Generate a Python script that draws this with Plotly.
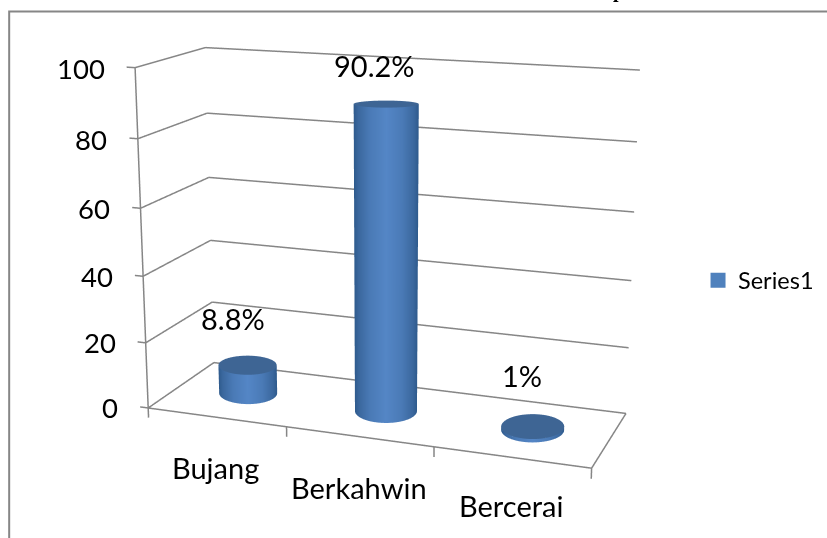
import numpy as np
import plotly.graph_objects as go

categories = ["Bujang", "Berkahwin", "Bercerai"]
values = [8.8, 90.2, 1.0]
value_labels = ["8.8%", "90.2%", "1%"]
z_ticks = [0, 20, 40, 60, 80, 100]
x_bounds = [0, 1, 2, 3]
series_name = "Series1"

W, H = 827, 538
XR = (-0.1, 3.03)
YR = (-0.03, 1.03)
ZR = (-4.0, 104.0)

# Camera of the scene. The reference has a long lens, far narrower than the
# 45-degree view plotly uses, so the figure is larger than the window and is
# shifted so that the view centre lands where the reference has it.
ASPECT = (1.2756, 0.4296, 1.0)
EYE = (1.4233, -3.8683, 1.0750)
UP = (0.0003, 0.0029, 1.0)
FOCAL = 1622.4
PPX, PPY = 380.9, 244.5
BH = 2 * FOCAL * np.tan(np.pi / 8)
BW = 2 * max(PPX, W - PPX) + 4
OX, OY = BW / 2 - PPX, BH / 2 - PPY


def project(pts):
    pts = np.asarray(pts, float)
    P = np.stack([
        ((pts[:, 0] - XR[0]) / (XR[1] - XR[0]) - .5) * ASPECT[0],
        ((pts[:, 1] - YR[0]) / (YR[1] - YR[0]) - .5) * ASPECT[1],
        ((pts[:, 2] - ZR[0]) / (ZR[1] - ZR[0]) - .5) * ASPECT[2]], axis=1)
    e = np.array(EYE)
    f = -e / np.linalg.norm(e)
    r = np.cross(f, UP)
    r /= np.linalg.norm(r)
    u = np.cross(r, f)
    v = P - e
    zv = v @ f
    return np.stack([PPX + (v @ r) / zv * FOCAL, PPY - (v @ u) / zv * FOCAL], axis=1)


GRID = "#868686"
fig = go.Figure()

lx, ly, lz = [], [], []


def seg(a, b):
    lx.extend([a[0], b[0], None])
    ly.extend([a[1], b[1], None])
    lz.extend([a[2], b[2], None])


for zt in z_ticks:
    seg((0, 0, zt), (0, 1, zt))
    seg((0, 1, zt), (3, 1, zt))
    seg((-0.06, 0, zt), (0, 0, zt))
seg((0, 0, 0), (3, 0, 0))
seg((3, 0, 0), (3, 1, 0))
seg((0, 0, 0), (0, 0, 100))
for i in x_bounds:
    seg((i, 0, 0), (i, 0, -3))
fig.add_trace(go.Scatter3d(x=lx, y=ly, z=lz, mode="lines", line=dict(color=GRID, width=3),
                           hoverinfo="skip", showlegend=False))

# Bar radii on screen, in px (across, down), at the base and at the top
R_BASE = [(29, 11), (31, 12), (31.5, 12.5)]
R_TOP = [(29, 10), (31, 7), (31.5, 12.5)]
YC = 0.5
th = np.linspace(0, 2 * np.pi, 97)
LIGHT = dict(ambient=1, diffuse=0, specular=0, roughness=1, fresnel=0)
for i, v in enumerate(values):
    xc = i + 0.5
    b0 = project([(xc, YC, 0)])[0]
    J = np.column_stack([project([(xc + .01, YC, 0)])[0] - b0, project([(xc, YC + .01, 0)])[0] - b0]) / .01
    Ji = np.linalg.inv(J)
    off_b = Ji @ np.stack([R_BASE[i][0] * np.cos(th), -R_BASE[i][1] * np.sin(th)])
    off_t = Ji @ np.stack([R_TOP[i][0] * np.cos(th), -R_TOP[i][1] * np.sin(th)])
    X = np.array([xc + off_b[0], xc + off_t[0]])
    Y = np.array([YC + off_b[1], YC + off_t[1]])
    Z = np.array([np.zeros_like(th), np.full_like(th, v)])
    shade = np.abs(np.cos(th))
    fig.add_trace(go.Surface(x=X, y=Y, z=Z, surfacecolor=np.array([shade, shade]), cmin=0, cmax=1,
                             colorscale=[[0, "#5486c6"], [0.5, "#4a7ab6"], [0.85, "#3b689e"], [1, "#2e5a8c"]],
                             showscale=False, lighting=LIGHT, hoverinfo="skip", showlegend=False))
    rr = np.array([0.0, 1.0])
    XC = xc + np.outer(rr, off_t[0])
    YC_ = YC + np.outer(rr, off_t[1])
    ZC = np.full_like(XC, v)
    fig.add_trace(go.Surface(x=XC, y=YC_, z=ZC, surfacecolor=np.zeros_like(XC), cmin=0, cmax=1,
                             colorscale=[[0, "#3e6594"], [1, "#3e6594"]], showscale=False,
                             lighting=LIGHT, hoverinfo="skip", showlegend=False))

fig.add_trace(go.Scatter3d(x=[None], y=[None], z=[None], mode="markers", name=series_name,
                           marker=dict(symbol="square", size=15, color="#4f81bd"), showlegend=True))

F = "Lato"
ann = []
for zt in z_ticks:
    ann.append(dict(x=-0.06, y=0, z=zt, text=str(zt), showarrow=False, xanchor="right", yanchor="middle",
                    xshift=-20, yshift=-1, font=dict(family=F, size=27.5, color="black")))
CAT_PX = [(216, 468), (359, 488), (511, 506)]
for i, c in enumerate(categories):
    a = project([(i + 0.5, 0, 0)])[0]
    ann.append(dict(x=i + 0.5, y=0, z=0, text=c, showarrow=False, xanchor="center", yanchor="middle",
                    xshift=float(CAT_PX[i][0] - a[0]), yshift=float(a[1] - CAT_PX[i][1]),
                    font=dict(family=F, size=29, color="black")))
LAB_PX = [(233, 319), (374, 66), (522, 376)]
for i, (v, t) in enumerate(zip(values, value_labels)):
    a = project([(i + 0.5, YC, v)])[0]
    ann.append(dict(x=i + 0.5, y=YC, z=v, text=t, showarrow=False, xanchor="center", yanchor="middle",
                    xshift=float(LAB_PX[i][0] - a[0]), yshift=float(a[1] - LAB_PX[i][1]),
                    font=dict(family=F, size=29, color="black")))


def pxx(x):
    return (x + OX) / BW


def pxy(y):
    return 1 - (y + OY) / BH


axis = dict(visible=False, showgrid=False, showspikes=False, autorange=False)
fig.update_layout(
    width=BW, height=BH, margin=dict(l=0, r=0, t=0, b=0), paper_bgcolor="white",
    scene=dict(domain=dict(x=[0, 1], y=[0, 1]),
               xaxis=dict(range=list(XR), **axis), yaxis=dict(range=list(YR), **axis), zaxis=dict(range=list(ZR), **axis),
               aspectmode="manual", aspectratio=dict(x=ASPECT[0], y=ASPECT[1], z=ASPECT[2]),
               camera=dict(eye=dict(x=EYE[0], y=EYE[1], z=EYE[2]), center=dict(x=0, y=0, z=0),
                           up=dict(x=UP[0], y=UP[1], z=UP[2])),
               annotations=ann),
    legend=dict(x=pxx(698), y=pxy(281), xanchor="left", yanchor="middle", font=dict(family=F, size=23.5, color="black"), bgcolor="rgba(0,0,0,0)"),
    annotations=[dict(x=pxx(618), y=pxy(0), xref="paper", yref="paper", yanchor="bottom", xanchor="center", yshift=-4, showarrow=False, text="<b>p</b>",
                      font=dict(family="Liberation Serif", size=20, color="black"))],
    shapes=[dict(type="rect", xref="paper", yref="paper", x0=pxx(9), x1=pxx(1000), y0=pxy(1000), y1=pxy(12), line=dict(color=GRID, width=2))],
)
post = ("document.documentElement.style.overflow='hidden';document.body.style.overflow='hidden';document.body.style.margin='0';"
        "var g=document.getElementById('{plot_id}');g.style.position='absolute';g.style.left='%.2fpx';g.style.top='%.2fpx';" % (-OX, -OY))
fig.write_html("out.html", post_script=post, config=dict(displayModeBar=False))
